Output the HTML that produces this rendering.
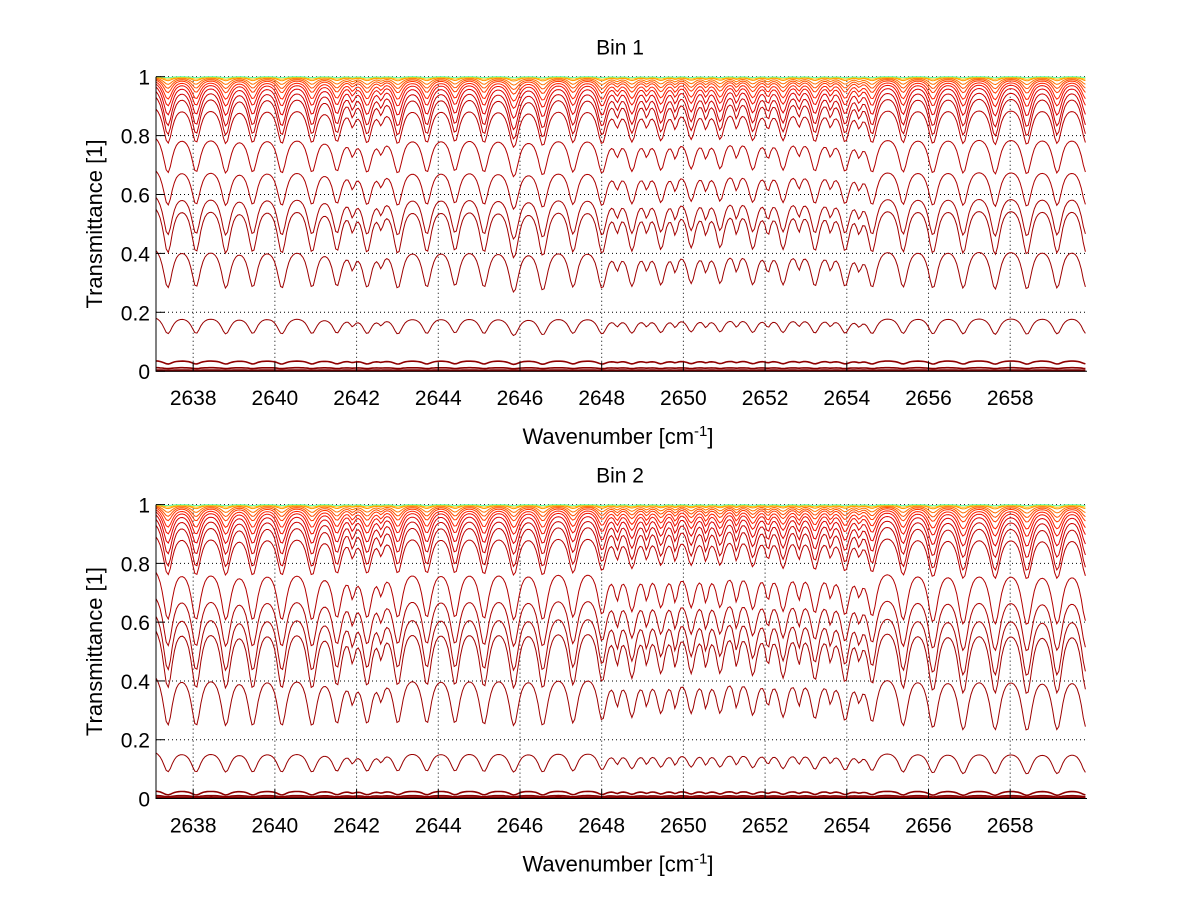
<!DOCTYPE html>
<html><head><meta charset="utf-8"><style>
body{margin:0;background:#fff}
svg{display:block;font-family:"Liberation Sans",Arial,sans-serif}
</style></head><body>
<svg id="chart" width="1200" height="901" viewBox="0 0 1200 901">
<rect width="1200" height="901" fill="#fff"/>
</svg>
<script>
// ---- data ----
const xTicks = [2638,2640,2642,2644,2646,2648,2650,2652,2654,2656,2658];
const yTicks = [0,0.2,0.4,0.6,0.8,1];
const lineCenters = [2637.38,2638.07,2638.80,2639.46,2640.17,2640.91,2641.52,2642.26,2643.01,2643.72,2644.41,2645.12,2645.85,2646.56,2647.30,2648.01,2648.74,2649.45,2650.19,2650.90,2651.70,2652.44,2653.22,2653.96,2654.62,2655.38,2656.11,2656.85,2657.63,2658.41,2659.15,2659.86];
const bin1Strength = [0.9,0.85,0.9,0.85,0.9,0.85,0.8,0.85,0.9,0.85,0.8,0.85,1.1,1.0,0.85,0.9,0.8,0.75,0.7,0.7,0.75,0.75,0.8,0.8,0.85,0.85,0.9,0.9,0.95,0.95,0.9,0.9];
const bin2Strength = [1.0,1.0,1.0,1.0,1.0,1.0,0.9,0.9,0.9,0.9,0.9,0.95,1.0,1.0,0.9,0.8,0.7,0.6,0.6,0.6,0.65,0.7,0.75,0.8,0.85,1.0,1.1,1.2,1.2,1.25,1.2,1.1];
const weakCenters = [2641.9,2642.6,2648.38,2649.1,2649.8,2650.55,2651.3,2652.07,2652.83,2653.6,2654.3];
const weakStrength1 = [0.3,0.25,0.3,0.3,0.35,0.35,0.35,0.35,0.3,0.3,0.3];
const weakStrength2 = [0.35,0.3,0.4,0.4,0.45,0.45,0.45,0.4,0.4,0.35,0.3];
const bin1Top   = [0.001,0.004,0.012,0.035,0.18,0.41,0.55,0.59,0.68,0.79,0.89,0.93,0.95,0.965,0.975,0.982,0.988,0.992,0.995,0.997,0.998,1.0];
const bin1Depth = [0,0.001,0.003,0.01,0.05,0.12,0.14,0.12,0.11,0.11,0.11,0.12,0.11,0.09,0.07,0.055,0.04,0.03,0.02,0.01,0.006,0.003];
const bin2Top   = [0.001,0.004,0.01,0.025,0.155,0.41,0.57,0.62,0.68,0.77,0.89,0.93,0.95,0.965,0.975,0.982,0.988,0.992,0.995,0.997,0.998,1.0];
const bin2Depth = [0,0.001,0.004,0.012,0.06,0.15,0.18,0.17,0.15,0.15,0.12,0.13,0.11,0.09,0.07,0.055,0.04,0.03,0.02,0.01,0.006,0.003];
const curveColors = ["#800000","#800000","#8a0000","#8f0000","#990000","#9e0000","#a30000","#a80000","#ad0000","#b30000","#b80000","#c00000","#cc0000","#dd0000","#ee1000","#ff2000","#ff3a00","#ff5000","#ff7000","#ff9000","#ffc000","#60ffa0"];

const NS = "http://www.w3.org/2000/svg";
const svg = document.getElementById("chart");
const X0 = 156, X1 = 1087, WN0 = 2637.09, WN1 = 2659.88;
function sx(v){ return X0 + (v - WN0) / (WN1 - WN0) * (X1 - X0); }
function mk(tag, attrs, parent){ const e = document.createElementNS(NS, tag); for (const k in attrs) e.setAttribute(k, attrs[k]); (parent||svg).appendChild(e); return e; }

function rawProfile(v, strengths, weak){
  let s = 0;
  for (let i = 0; i < lineCenters.length; i++){ const d = (v - lineCenters[i]) / 0.1; s += strengths[i] / (1 + d*d); }
  for (let i = 0; i < weakCenters.length; i++){ const d = (v - weakCenters[i]) / 0.07; s += weak[i] / (1 + d*d); }
  return 1 - Math.exp(-1.5 * s);
}

function panel(idx, yTop, yBot, title, tops, depths, strengths, weak){
  const sy = v => yBot - v * (yBot - yTop);
  const g = mk("g", {});
  
  
  xTicks.forEach(t => {
    const l = mk("line", {x1:sx(t), x2:sx(t), y1:yTop, y2:yBot, stroke:"#000", "stroke-width":1, "stroke-dasharray":"1,3"}, g);
    
    
  });
  yTicks.forEach(t => {
    if (t === 0) return;
    const l = mk("line", {x1:X0, x2:X1, y1:sy(t), y2:sy(t), stroke:"#000", "stroke-width":1, "stroke-dasharray":"1,3"}, g);
    
    
  });
  // sample profile
  const vs = [], ps = [];
  let pmin = 1, pmax = 0;
  for (let v = WN0; v <= WN1 + 0.001; v += 0.05){
    const p = rawProfile(v, strengths, weak);
    vs.push(v); ps.push(p);
    pmin = Math.min(pmin, p); pmax = Math.max(pmax, p);
  }
  const span = (pmax - pmin) * 0.85;
  for (let c = 0; c < tops.length; c++){
    let d = "";
    for (let i = 0; i < vs.length; i++){
      const y = tops[c] - depths[c] * (ps[i] - pmin) / span;
      d += (d ? "L" : "M") + sx(vs[i]).toFixed(1) + "," + sy(y).toFixed(1);
    }
    const p = mk("path", {d:d, fill:"none", stroke:curveColors[c], "stroke-width": c < 4 ? 1.6 : 1}, g);
    
    
  }
  const ax = mk("path", {d:`M${X0},${yTop}V${yBot}H${X1}`, fill:"none", stroke:"#000", "stroke-width":1}, g);
  
  
  xTicks.forEach(t => {
    mk("line", {x1:sx(t), x2:sx(t), y1:yBot, y2:yBot-9, stroke:"#000"}, g);
    const tx = mk("text", {x:sx(t), y:yBot+34, "font-size":21, "text-anchor":"middle"}, g);
    tx.textContent = t;
    
    
  });
  yTicks.forEach(t => {
    mk("line", {x1:X0, x2:X0+9, y1:sy(t), y2:sy(t), stroke:"#000"}, g);
    const tx = mk("text", {x:150, y:sy(t)+8, "font-size":21, "text-anchor":"end"}, g);
    tx.textContent = t;
    
    
  });
  const tt = mk("text", {x:620, y:yTop-22, "font-size":21, "text-anchor":"middle"}, g);
  tt.textContent = title;
  
  
  const xl = mk("text", {x:618, y:yBot+73, "font-size":22, "text-anchor":"middle"}, g);
  xl.innerHTML = 'Wavenumber [cm<tspan dy="-8" font-size="15">-1</tspan><tspan dy="8">]</tspan>';
  
  
  const cy = (yTop + yBot) / 2;
  const yl = mk("text", {x:102, y:cy, "font-size":22, "text-anchor":"middle", transform:`rotate(-90 102 ${cy})`}, g);
  yl.textContent = "Transmittance [1]";
  
  
}
panel(1, 76.7, 371.2, "Bin 1", bin1Top, bin1Depth, bin1Strength, weakStrength1);
panel(2, 504.6, 798.5, "Bin 2", bin2Top, bin2Depth, bin2Strength, weakStrength2);
</script>
</body></html>
